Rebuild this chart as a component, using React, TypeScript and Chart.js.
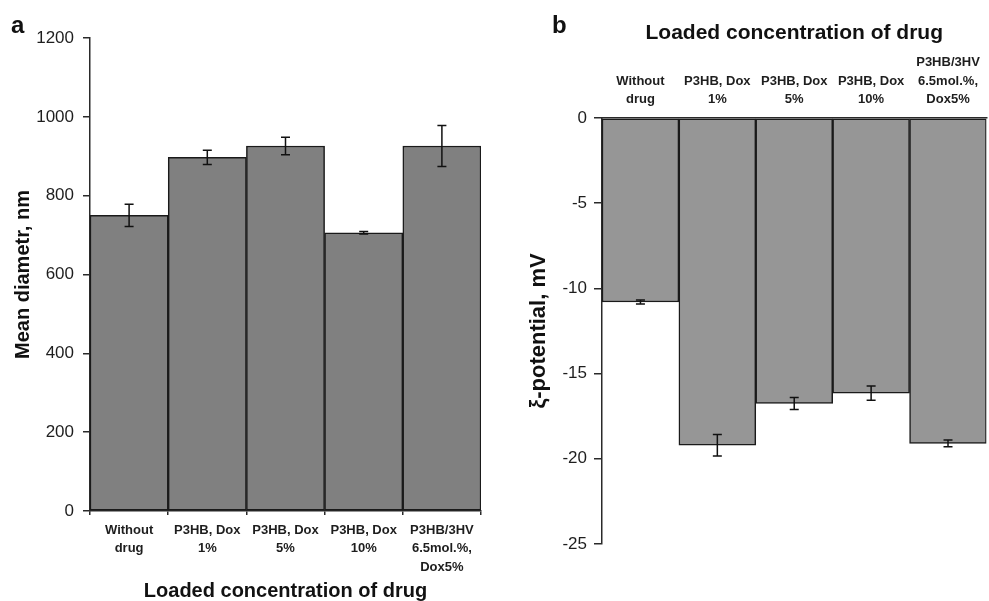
import React, { useEffect, useRef } from "react";
import { Chart, registerables } from "chart.js";

Chart.register(...registerables);
Chart.defaults.font.family = "'Liberation Sans', Arial, sans-serif";

// ---- data ----
const categories: string[][] = [
  ["Without", "drug"],
  ["P3HB, Dox", "1%"],
  ["P3HB, Dox", "5%"],
  ["P3HB, Dox", "10%"],
  ["P3HB/3HV", "6.5mol.%,", "Dox5%"],
];
const diameterValues = [750, 897, 926, 706, 926];
const diameterErrors = [28, 18, 22, 3, 52];
const zetaValues = [-10.8, -19.2, -16.75, -16.15, -19.1];
const zetaErrors = [0.12, 0.63, 0.35, 0.42, 0.2];
const diameterAxis = { min: 0, max: 1200, step: 200 };
const zetaAxis = { min: -25, max: 0, step: 5 };
const xTitle = "Loaded concentration of drug";
const leftYTitle = "Mean diametr, nm";
const rightYTitle = "ξ-potential, mV";

const AXIS = "#2a2a2a";
const TEXT = "#1e1e1e";

const errorBarPlugin = {
  id: "errorBars",
  afterDatasetsDraw(chart: any, _args: any, opts: any) {
    const errs: number[] = opts && opts.errors;
    if (!errs) return;
    const meta = chart.getDatasetMeta(0);
    const y = chart.scales.y;
    const ctx = chart.ctx;
    const vals = chart.data.datasets[0].data as number[];
    ctx.save();
    ctx.strokeStyle = "#111";
    ctx.lineWidth = 1.5;
    meta.data.forEach((bar: any, i: number) => {
      const v = vals[i];
      const e = errs[i];
      const top = y.getPixelForValue(v + e);
      const bot = y.getPixelForValue(v - e);
      const x = bar.x;
      ctx.beginPath();
      ctx.moveTo(x, top);
      ctx.lineTo(x, bot);
      ctx.moveTo(x - 4.5, top);
      ctx.lineTo(x + 4.5, top);
      ctx.moveTo(x - 4.5, bot);
      ctx.lineTo(x + 4.5, bot);
      ctx.stroke();
    });
    ctx.restore();
  },
};

const labelFont = { size: 13, weight: "bold" as const, lineHeight: 1.42 };

function makeLeft(canvas: HTMLCanvasElement) {
  return new Chart(canvas, {
    type: "bar",
    data: {
      labels: categories,
      datasets: [
        {
          data: diameterValues,
          backgroundColor: "#808080",
          borderColor: "#1a1a1a",
          borderWidth: 1.5,
          borderSkipped: false,
          barPercentage: 1,
          categoryPercentage: 1,
        },
      ],
    },
    options: {
      responsive: false,
      animation: false,
      devicePixelRatio: 1,
      layout: { padding: { left: 0, right: 9, top: 38, bottom: 0 } },
      plugins: {
        legend: { display: false },
        tooltip: { enabled: false },
        errorBars: { errors: diameterErrors },
      } as any,
      scales: {
        x: {
          position: "bottom",
          grid: { drawOnChartArea: false, drawTicks: true, tickLength: 4, color: AXIS, lineWidth: 1.5, offset: true },
          border: { color: AXIS, width: 1.5 },
          ticks: { font: labelFont, color: TEXT, padding: 6, maxRotation: 0, minRotation: 0, autoSkip: false },
          title: { display: true, text: xTitle, font: { size: 20, weight: "bold", lineHeight: 1 }, color: "#111", padding: 0 },
          afterFit: (s: any) => {
            s.height = 90;
          },
        },
        y: {
          min: diameterAxis.min,
          max: diameterAxis.max,
          ticks: { stepSize: diameterAxis.step, font: { size: 17 }, color: TEXT, padding: 9, callback: (v: any) => String(v) },
          grid: { drawOnChartArea: false, tickLength: 7, color: AXIS, lineWidth: 1.5 },
          border: { color: AXIS, width: 1.5 },
          title: { display: true, text: leftYTitle, font: { size: 20, weight: "bold", lineHeight: 1 }, color: "#111", padding: { top: 13, bottom: 0 } },
          afterFit: (s: any) => {
            s.width = 90;
          },
        },
      },
    } as any,
    plugins: [errorBarPlugin],
  });
}

function makeRight(canvas: HTMLCanvasElement) {
  return new Chart(canvas, {
    type: "bar",
    data: {
      labels: categories,
      datasets: [
        {
          data: zetaValues,
          backgroundColor: "#969696",
          borderColor: "#1a1a1a",
          borderWidth: 1.5,
          borderSkipped: false,
          barPercentage: 1,
          categoryPercentage: 1,
        },
      ],
    },
    options: {
      responsive: false,
      animation: false,
      devicePixelRatio: 1,
      layout: { padding: { left: 0, right: 2, top: 0, bottom: 57 } },
      plugins: {
        legend: { display: false },
        tooltip: { enabled: false },
        errorBars: { errors: zetaErrors },
      } as any,
      scales: {
        x: {
          position: "top",
          grid: { drawOnChartArea: false, drawTicks: false, color: AXIS, lineWidth: 1.5, offset: true },
          border: { color: AXIS, width: 1.5 },
          ticks: { font: labelFont, color: TEXT, padding: 9, maxRotation: 0, minRotation: 0, autoSkip: false },
          title: { display: true, text: xTitle, font: { size: 21, weight: "bold", lineHeight: 1 }, color: "#111", padding: { top: 23, bottom: 0 } },
          afterFit: (s: any) => {
            s.height = 118;
          },
        },
        y: {
          min: zetaAxis.min,
          max: zetaAxis.max,
          ticks: { stepSize: zetaAxis.step, font: { size: 17 }, color: TEXT, padding: 7, callback: (v: any) => String(v) },
          grid: { drawOnChartArea: false, tickLength: 8, color: AXIS, lineWidth: 1.5 },
          border: { color: AXIS, width: 1.5 },
          title: { display: true, text: rightYTitle, font: { size: 22, weight: "bold", lineHeight: 1 }, color: "#111", padding: { top: 38, bottom: 0 } },
          afterFit: (s: any) => {
            s.width = 112;
          },
        },
      },
    } as any,
    plugins: [errorBarPlugin],
  });
}

export default function App() {
  const leftRef = useRef<HTMLCanvasElement>(null);
  const rightRef = useRef<HTMLCanvasElement>(null);

  useEffect(() => {
    const l = makeLeft(leftRef.current!);
    const r = makeRight(rightRef.current!);
    return () => {
      l.destroy();
      r.destroy();
    };
  }, []);

  const panelLabel: React.CSSProperties = {
    position: "absolute",
    fontFamily: "'Liberation Sans', Arial, sans-serif",
    fontWeight: "bold",
    fontSize: 24,
    lineHeight: "24px",
    color: "#111",
  };

  return (
    <div style={{ position: "absolute", left: 0, top: 0, width: 989, height: 601, background: "#fff", overflow: "hidden" }}>
      <canvas ref={leftRef} width={490} height={601} style={{ position: "absolute", left: 0, top: 0 }} />
      <canvas ref={rightRef} width={499} height={601} style={{ position: "absolute", left: 490, top: 0 }} />
      <div style={{ ...panelLabel, left: 11, top: 13 }}>a</div>
      <div style={{ ...panelLabel, left: 552, top: 13 }}>b</div>
    </div>
  );
}
